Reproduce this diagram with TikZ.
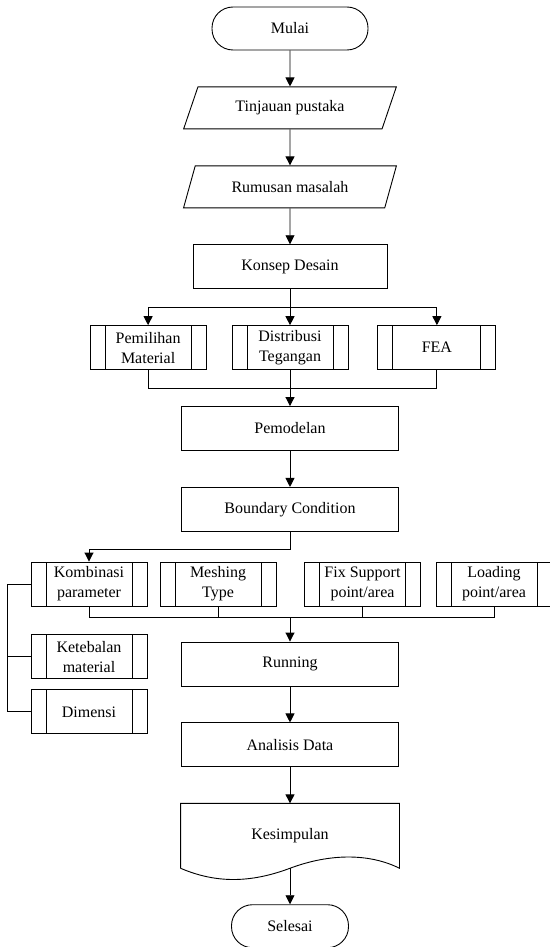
\documentclass[tikz,border=0pt]{standalone}
\usepackage{fontspec}
\setmainfont{Liberation Serif}
\usetikzlibrary{positioning, shapes.geometric, arrows.meta, calc}

\begin{document}
\begin{tikzpicture}[
        x=1pt, y=-1pt,
        node distance=36pt and 25pt,
        line width=0.9pt,
        every node/.style={font=\fontsize{16}{20}\selectfont},
        terminal_node/.style={draw, rectangle, rounded corners=21pt, minimum height=43pt, align=center},
        io_node/.style={draw, trapezium, trapezium left angle=67, trapezium right angle=113, trapezium stretches=true, minimum width=213pt, minimum height=42pt, align=center},
        process_node/.style={draw, rectangle, minimum width=217pt, minimum height=44pt, align=center},
        predef_node/.style={draw, rectangle, minimum width=116pt, minimum height=44pt, align=center,
            path picture={
                \draw ([xshift=15pt]path picture bounding box.north west) -- ([xshift=15pt]path picture bounding box.south west);
                \draw ([xshift=-15pt]path picture bounding box.north east) -- ([xshift=-15pt]path picture bounding box.south east);
            }},
        doc_node/.style={rectangle, minimum width=218pt, minimum height=64pt, align=center},
        arrow/.style={-{Triangle[length=9pt, width=9pt]}}
    ]
        \useasboundingbox (0,0) rectangle (549,947);

        % Main column
        \node (mulai) [terminal_node, minimum width=156pt] at (290,28.5) {Mulai};
        \node (tinjauan) [io_node, below=of mulai] {Tinjauan pustaka};
        \node (rumusan) [io_node, below=of tinjauan] {Rumusan masalah};
        \node (konsep) [process_node, minimum width=194pt, below=of rumusan] {Konsep Desain};
        \node (distribusi) [predef_node, below=of konsep] {Distribusi\\Tegangan};
        \node (pemilihan) [predef_node, left=of distribusi] {Pemilihan\\Material};
        \node (fea) [predef_node, minimum width=118pt, right=29pt of distribusi] {FEA};
        \node (pemodelan) [process_node, below=of distribusi] {Pemodelan};
        \node (boundary) [process_node, below=of pemodelan] {Boundary Condition};

        % Parameter row
        \node (kombinasi) [predef_node] at (89,584) {Kombinasi\\parameter};
        \node (meshing) [predef_node] at (218,584) {Meshing\\Type};
        \node (fixsupport) [predef_node] at (362.5,584) {Fix Support\\point/area};
        \node (loading) [predef_node] at (494,584) {Loading\\point/area};
        \node (ketebalan) [predef_node, below=28pt of kombinasi] {Ketebalan\\material};
        \node (dimensi) [predef_node, below=10pt of ketebalan] {Dimensi};

        \node (running) [process_node] at (290,664) {Running};
        \node (analisis) [process_node, below=of running] {Analisis Data};
        \node (kesimpulan) [doc_node, below=of analisis] {Kesimpulan};
        \node (selesai) [terminal_node, minimum width=117pt, below=of kesimpulan] {Selesai};

        % Document outline
        \draw (kesimpulan.south west) -- (kesimpulan.north west) -- (kesimpulan.north east) -- (kesimpulan.south east)
            .. controls ($(kesimpulan.south east)+(-30,-15)$) and ($(kesimpulan.south)+(40,-15)$) .. (kesimpulan.south)
            .. controls ($(kesimpulan.south)+(-40,15)$) and ($(kesimpulan.south west)+(35,15)$) .. (kesimpulan.south west);

        % Arrows
        \draw [arrow] (mulai) -- (tinjauan);
        \draw [arrow] (tinjauan) -- (rumusan);
        \draw [arrow] (rumusan) -- (konsep);
        \coordinate (split_a) at ($(konsep.south)!0.5!(distribusi.north)$);
        \draw [arrow] (konsep) -- (distribusi);
        \draw [arrow] (split_a) -| (pemilihan);
        \draw [arrow] (split_a) -| (fea);
        \coordinate (join_a) at ($(distribusi.south)!0.5!(pemodelan.north)$);
        \draw (pemilihan) |- (join_a) -| (fea);
        \draw [arrow] (distribusi) -- (pemodelan);
        \draw [arrow] (pemodelan) -- (boundary);
        \coordinate (split_b) at ($(boundary.south)+(0,18)$);
        \draw [arrow] (boundary.south) -- (split_b) -| (kombinasi);
        \coordinate (join_b) at ($(meshing.south -| running.north)+(0,11)$);
        \draw (kombinasi) |- (join_b) -| (loading);
        \draw (meshing) -- (meshing |- join_b);
        \draw (fixsupport) -- (fixsupport |- join_b);
        \draw [arrow] (join_b) -- (running);
        \draw (kombinasi.west) -- ++(-23,0) |- (dimensi.west);
        \draw (ketebalan.west) -- ++(-23,0);
        \draw [arrow] (running) -- (analisis);
        \draw [arrow] (analisis) -- (kesimpulan);
        \draw [arrow] (kesimpulan) -- (selesai);
    \end{tikzpicture}
\end{document}
